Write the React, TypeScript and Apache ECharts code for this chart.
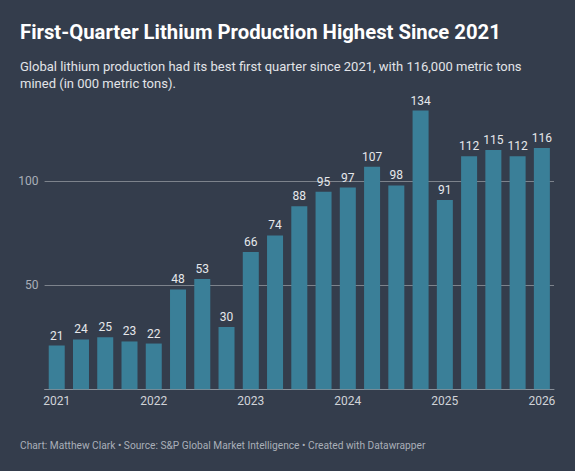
import React, { useEffect, useRef } from "react";
import * as echarts from "echarts";

// Quarterly lithium production, 000 metric tons (Q1 2021 .. Q1 2026)
const quarters = [
  "2021 Q1", "2021 Q2", "2021 Q3", "2021 Q4",
  "2022 Q1", "2022 Q2", "2022 Q3", "2022 Q4",
  "2023 Q1", "2023 Q2", "2023 Q3", "2023 Q4",
  "2024 Q1", "2024 Q2", "2024 Q3", "2024 Q4",
  "2025 Q1", "2025 Q2", "2025 Q3", "2025 Q4",
  "2026 Q1",
];
const production = [
  21, 24, 25, 23, 22, 48, 53, 30, 66, 74, 88, 95, 97, 107, 98, 134, 91, 112, 115,
  112, 116,
];
const gridValues = [50, 100];

const titleText = "First-Quarter Lithium Production Highest Since 2021";
const subtitleLines = [
  "Global lithium production had its best first quarter since 2021, with 116,000 metric tons",
  "mined (in 000 metric tons).",
];
const footerText =
  "Chart: Matthew Clark \u2022 Source: S&P Global Market Intelligence \u2022 Created with Datawrapper";

const FONT = "Roboto, 'Noto Sans', sans-serif";
const BG = "#343d4c";
const BAR = "#3a7f98";

export default function App() {
  const ref = useRef<HTMLDivElement>(null);

  useEffect(() => {
    if (!ref.current) return;
    const chart = echarts.init(ref.current, undefined, { renderer: "svg" });
    chart.setOption({
      animation: false,
      backgroundColor: BG,
      textStyle: { fontFamily: FONT },
      grid: { left: 44.6, right: 21, top: 98.1, bottom: 81.7, containLabel: false },
      graphic: [
        {
          type: "text",
          left: 20,
          top: 22,
          style: {
            text: titleText,
            fill: "#ffffff",
            font: `bold 20.3px ${FONT}`,
          },
        },
        {
          type: "text",
          left: 20,
          top: 57.5,
          style: {
            text: subtitleLines.join("\n"),
            fill: "#e2e4e8",
            font: `13px ${FONT}`,
            lineHeight: 17.6,
          },
        },
        {
          type: "text",
          left: 20,
          top: 440,
          style: {
            text: footerText,
            fill: "#a9afb8",
            font: `10.2px ${FONT}`,
          },
        },
      ],
      xAxis: {
        type: "category",
        data: quarters,
        boundaryGap: true,
        axisLine: { show: true, lineStyle: { color: "#8a9099", width: 1 } },
        axisTick: { show: false },
        axisLabel: {
          interval: 3,
          margin: 6,
          color: "#d0d3d8",
          fontSize: 12,
          fontFamily: FONT,
          formatter: (v: string) => v.slice(0, 4),
        },
      },
      yAxis: {
        type: "value",
        min: 0,
        max: 140,
        interval: 50,
        axisLine: { show: false },
        axisTick: { show: false },
        splitLine: { show: false },
        axisLabel: {
          margin: 6,
          color: "#a9afb8",
          fontSize: 12,
          fontFamily: FONT,
          formatter: (v: number) => (gridValues.includes(v) ? String(v) : ""),
        },
      },
      series: [
        {
          type: "bar",
          data: production,
          barCategoryGap: "34%",
          itemStyle: { color: BAR },
          label: {
            show: true,
            position: "top",
            distance: 4,
            color: "#e6e8eb",
            fontSize: 12,
            fontFamily: FONT,
          },
          markLine: {
            silent: true,
            symbol: "none",
            z: 1,
            label: { show: false },
            lineStyle: { color: "#7d838c", type: "solid", width: 1 },
            data: gridValues.map((v) => ({ yAxis: v })),
          },
          z: 2,
        },
      ],
    });
    return () => chart.dispose();
  }, []);

  return (
    <div
      ref={ref}
      style={{ position: "fixed", left: 0, top: 0, width: 575, height: 471 }}
    />
  );
}
